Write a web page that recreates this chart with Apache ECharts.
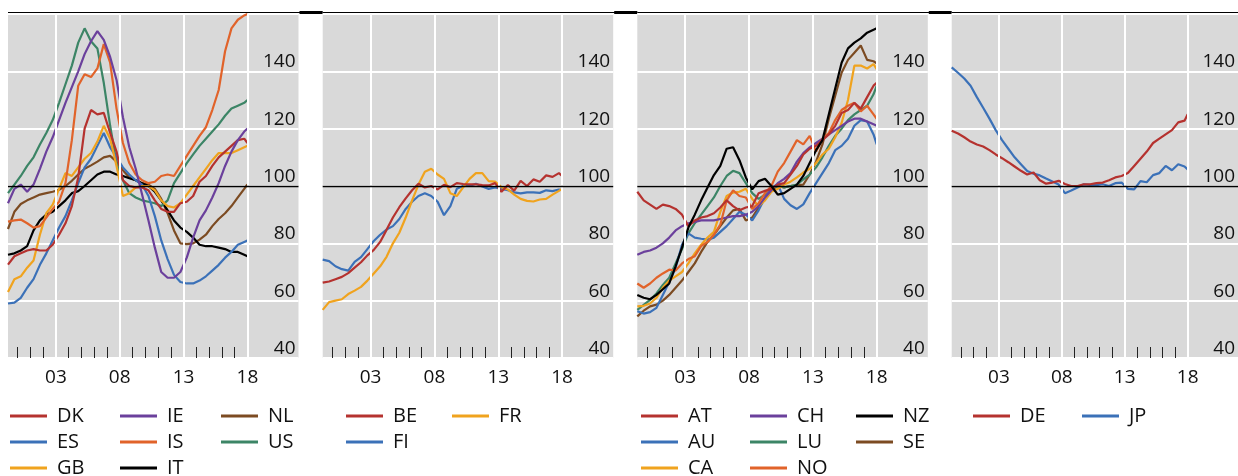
<!DOCTYPE html>
<html>
<head>
<meta charset="utf-8">
<script src="https://cdn.jsdelivr.net/npm/echarts@6/dist/echarts.min.js"></script>
<style>
  html, body { margin: 0; padding: 0; background: #fff; }
  #chart { width: 1238px; height: 476px; }
</style>
</head>
<body>
<div id="chart"></div>
<script>
// Half-yearly observation dates (decimal years)
const dates = [1999.25, 1999.75, 2000.25, 2000.75, 2001.25, 2001.75, 2002.25, 2002.75,
  2003.25, 2003.75, 2004.25, 2004.75, 2005.25, 2005.75, 2006.25, 2006.75,
  2007.25, 2007.75, 2008.25, 2008.75, 2009.25, 2009.75, 2010.25, 2010.75,
  2011.25, 2011.75, 2012.25, 2012.75, 2013.25, 2013.75, 2014.25, 2014.75,
  2015.25, 2015.75, 2016.25, 2016.75, 2017.25, 2017.75, 2018.0];

// Tick positions and labels
const majorYears = [2003, 2008, 2013, 2018];
const minorYears = [2000, 2001, 2002, 2004, 2005, 2006, 2007, 2009, 2010, 2011, 2012, 2014, 2015, 2016, 2017];
const yTicks = [40, 60, 80, 100, 120, 140, 160];

// Panel 1
const DK = [72.6, 75.5, 76.5, 77.5, 78, 77.5, 77.5, 79.5, 83, 87, 93, 103, 120, 126.5, 125, 125.5, 118.5, 112, 102, 100, 99.5, 99.5, 98.5, 95, 92, 91, 91, 94, 94.5, 96.5, 101.5, 103.5, 107, 110, 112, 114, 116, 116.5, 115];
const ES = [59, 59.3, 61, 64.5, 67.5, 72.5, 76.5, 81, 85.5, 89.5, 95, 101, 106.5, 109.5, 114, 118.5, 113.5, 110, 106.5, 104, 102, 100.5, 96.5, 89.5, 81, 74.5, 69, 66.5, 66, 66, 67, 68.5, 70.5, 72.5, 75, 77, 79.5, 80.5, 81];
const GB = [63, 67.5, 68.5, 71.5, 74, 83, 90.5, 93.5, 99, 104.5, 103.5, 106.5, 109.5, 111.5, 115.5, 121, 116.5, 107, 96.5, 97.5, 99.5, 100, 100, 98.5, 95, 93, 92.5, 94, 97, 100, 103, 106, 109, 111.5, 111.5, 111.5, 112.5, 113.5, 114];
const IE = [94, 99, 100.5, 98, 100.5, 106, 112, 117, 123, 129, 134.5, 140, 146, 150.5, 154, 151, 145, 137, 124, 113.5, 106, 97, 88, 78.5, 70, 68, 68, 70, 75, 82, 88, 91.5, 96, 101, 107, 112, 116, 119, 120];
const IS = [87.6, 88, 88.3, 87, 85.5, 86, 89, 92, 94.5, 101, 116, 135, 139, 138, 141, 149.5, 143, 127, 115, 108, 104, 102, 101, 101.5, 103.5, 104, 103.5, 107, 110.5, 114, 117.5, 120.5, 126.5, 133.5, 147, 155, 158, 159.5, 160];
const IT = [76, 76.5, 77.5, 79, 84.5, 88, 90, 91, 93, 95, 97.5, 98.2, 100, 102, 104, 105, 105, 104, 103.5, 102.7, 102, 101, 100, 98, 95, 91.5, 88, 85.5, 84, 82, 79.5, 79, 79, 78.5, 78, 77, 77, 76, 75.5];
const NL = [85, 91, 93.7, 95, 96, 97, 97.5, 98, 98.7, 100, 101.8, 104, 106, 107.2, 108.5, 110, 110.5, 108.5, 105.5, 103, 102, 101, 100.5, 99, 95.5, 90.5, 84.5, 80, 79.7, 80, 81.3, 83, 86, 88.5, 90.5, 93, 96, 99, 100.6];
const US = [97.5, 100.5, 103.5, 107, 110, 114.5, 118.5, 123, 129, 135.5, 142, 150, 155, 150.5, 148, 136, 121, 108, 102, 97.5, 96, 95, 94.5, 94, 93, 95, 101, 104.5, 108, 111, 114, 116.5, 119, 121.5, 124.5, 127, 128, 129, 130];

// Panel 2
const BE = [66.3, 66.7, 67.5, 68.3, 69.6, 71.5, 73.4, 75.8, 77.7, 80.5, 84.7, 89, 92.6, 95.7, 98.5, 100.8, 99.5, 100, 98.8, 100.4, 99.6, 101, 100.7, 100.6, 100.6, 100.3, 100.2, 101, 98, 100.3, 98.4, 101.8, 100, 102.3, 101.5, 103.7, 103.2, 104.5, 103.5];
const FI = [74.3, 73.8, 72, 71, 70.5, 73.5, 75.2, 78, 80.8, 83, 84.8, 86, 88.5, 92, 94.5, 96.5, 97.5, 96.5, 94.5, 89.8, 93, 99, 100, 100, 100.8, 99.8, 99, 99.5, 99, 98.5, 97.8, 97.4, 97.8, 97.8, 97.6, 98.5, 98.2, 98.8, 98.5];
const FR = [56.8, 59.5, 60, 60.5, 62.3, 63.5, 64.8, 67, 69.5, 72, 75.3, 80, 83.7, 89, 95, 100.5, 105, 106, 104, 102.5, 97.5, 96.5, 99.5, 102.5, 104.5, 104.5, 101.7, 101.5, 99.6, 98.8, 97, 95.5, 94.8, 94.6, 95.3, 95.5, 97, 98.3, 99];

// Panel 3
const AT = [98, 95, 93.5, 92, 93.5, 93, 92, 90, 86, 88, 89, 89.5, 90.5, 92.5, 95, 93, 91.5, 92.5, 93, 97.5, 98.3, 99, 100.5, 101, 104, 107, 111, 113, 114, 116, 118, 121, 125.5, 126.5, 129, 127, 131, 135, 136];
const AU = [56.3, 55.5, 56, 57.5, 62, 66.5, 71.5, 79.5, 83.5, 82, 81.6, 81.3, 82, 84, 86, 88.5, 91, 90, 88, 91.5, 96, 99.5, 100.5, 95.5, 93.3, 92, 93.6, 97.5, 101, 104.5, 108, 112.5, 114, 116.5, 121, 123, 122.5, 118, 114.5];
const CA = [58, 58.2, 59, 61, 64.5, 67, 68.5, 70, 73, 76.5, 79.5, 82, 84, 91, 96.5, 97.7, 98, 99, 95.5, 93, 95, 98, 99, 100.5, 101.5, 103, 104.7, 106, 108, 111, 113, 117, 122, 130, 142, 142, 141, 142.5, 140.8];
const CH = [76, 77, 77.5, 78.5, 80, 82, 84.5, 86, 87, 87.5, 88, 88, 88, 88.5, 89, 89.5, 89.5, 90, 91, 93, 96, 98.5, 101, 102.5, 104.5, 108.5, 111.5, 113.5, 115, 116.5, 118, 119.5, 121, 122.5, 123.5, 123.5, 122.5, 121.5, 121];
const LU = [56.8, 58.5, 60.3, 62.5, 65.5, 68, 73, 78, 83.5, 87, 90, 93, 96, 100, 103.5, 105.3, 104.5, 101, 97.5, 95.5, 97, 98.8, 100, 99.5, 100, 100.5, 102.3, 104, 106.5, 110, 114, 117.5, 120, 123, 125, 126.5, 128, 132, 135];
const NO = [66, 64.5, 66, 68, 69.5, 70.8, 70.5, 73, 74.5, 75.5, 79, 80.5, 83, 86.5, 95, 98.5, 96.5, 96, 92, 94, 97.5, 100, 105, 108, 112, 116, 114.5, 117.5, 112, 116.5, 118.5, 123, 126.5, 128, 129, 126, 128, 125, 123.4];
const NZ = [62, 61, 60.5, 62, 64, 66, 72, 78.5, 85.5, 90, 95, 99.5, 103.8, 107, 113, 113.5, 109, 103, 98.8, 101.7, 102.5, 100, 97, 97.5, 99, 100.5, 103.5, 108, 112.5, 116, 125, 134, 143, 148, 150, 151.5, 153.5, 154.5, 155];
const SE = [54.5, 56.5, 58, 58.6, 60, 62, 64.5, 67, 70, 73, 77, 80.5, 83, 86, 89, 91.5, 92, 88, 89, 92.5, 95.5, 98.5, 100, 99.5, 100, 100.3, 100.5, 104, 108.5, 114.5, 123.5, 131.5, 139.5, 144, 146.5, 149, 144, 143.5, 142.8];

// Panel 4
const DE = [119.3, 118.3, 117, 115.5, 114.5, 113.8, 112.5, 111, 109.7, 108.3, 106.8, 105.3, 104, 104.7, 102, 100.8, 101.2, 101.8, 100.7, 100, 100, 100.6, 100.6, 101, 101.2, 102, 103, 103.5, 104.5, 107, 109.5, 112, 115, 116.5, 118, 119.5, 122.2, 122.8, 125];
const JP = [141.4, 139.5, 137.5, 135, 131, 127.3, 123.5, 119.5, 116, 113, 110, 107.6, 105.2, 104.3, 103.7, 102.6, 101.6, 100.5, 97.5, 98.4, 99.5, 100.6, 100.4, 100.3, 100.6, 100, 101, 101.2, 99, 98.8, 101.7, 101.3, 103.8, 104.5, 107, 105.5, 107.6, 106.8, 105.8];

// Colours
const C = {
  red: '#b5322f', blue: '#3b71b8', gold: '#f0a31e', purple: '#6b409c',
  orange: '#e1632a', green: '#3c8566', brown: '#7c4b22', black: '#000000'
};

// Series per panel, in drawing order
const panels = [
  [['NL', NL, C.brown], ['IT', IT, C.black], ['US', US, C.green], ['ES', ES, C.blue],
   ['GB', GB, C.gold], ['DK', DK, C.red], ['IS', IS, C.orange], ['IE', IE, C.purple]],
  [['FI', FI, C.blue], ['FR', FR, C.gold], ['BE', BE, C.red]],
  [['SE', SE, C.brown], ['LU', LU, C.green], ['AU', AU, C.blue], ['CA', CA, C.gold],
   ['CH', CH, C.purple], ['NO', NO, C.orange], ['AT', AT, C.red], ['NZ', NZ, C.black]],
  [['JP', JP, C.blue], ['DE', DE, C.red]]
];

// Legend columns: [icon left, names top to bottom]
const legendCols = [
  [10, ['DK', 'ES', 'GB']], [120, ['IE', 'IS', 'IT']], [221, ['NL', 'US']],
  [346, ['BE', 'FI']], [452, ['FR']],
  [641, ['AT', 'AU', 'CA']], [750, ['CH', 'LU', 'NO']], [856, ['NZ', 'SE']],
  [973, ['DE']], [1082, ['JP']]
];
const legendRowCentres = [416, 442, 468];

const FONT = '"Open Sans", "Noto Sans", sans-serif';
const gridLefts = [8, 322.7, 637.3, 951.7];
const gridW = 290.5, gridTop = 14, gridH = 344;
const xMin = 1999.25, xMax = 2022;

const grid = [], xAxis = [], yAxis = [], series = [], legend = [], graphic = [];

gridLefts.forEach((left, i) => {
  grid.push({ left: left, top: gridTop, width: gridW, height: gridH, show: true,
    backgroundColor: '#d9d9d9', borderWidth: 0, containLabel: false });

  // major ticks with labels
  xAxis.push({
    gridIndex: i, type: 'value', min: xMin, max: xMax, position: 'bottom',
    axisLine: { show: false }, splitLine: { show: false },
    axisTick: { show: true, inside: true, length: 21, customValues: majorYears,
      lineStyle: { color: '#222', width: 1 } },
    axisLabel: { show: true, customValues: majorYears, margin: 10,
      formatter: v => String(Math.round(v)).slice(2),
      fontFamily: FONT, fontSize: 19, color: '#111' }
  });
  // yearly minor ticks
  xAxis.push({
    gridIndex: i, type: 'value', min: xMin, max: xMax, position: 'bottom',
    axisLine: { show: false }, splitLine: { show: false },
    axisTick: { show: true, inside: true, length: 11, customValues: minorYears,
      lineStyle: { color: '#222', width: 1 } },
    axisLabel: { show: false }
  });

  yAxis.push({
    gridIndex: i, type: 'value', min: yTicks[0], max: yTicks[yTicks.length - 1], interval: 20,
    position: 'right',
    axisLine: { show: false }, axisTick: { show: false },
    splitLine: { show: true, lineStyle: { color: '#ffffff', width: 2 } },
    axisLabel: { inside: true, margin: 3, showMaxLabel: false, verticalAlign: 'bottom',
      fontFamily: FONT, fontSize: 19, color: '#111' }
  });

  // vertical grid lines and the 100 reference line
  series.push({
    type: 'line', xAxisIndex: 2 * i, yAxisIndex: i, data: [], z: 1, silent: true,
    markLine: {
      silent: true, symbol: 'none', animation: false,
      label: { show: false },
      data: majorYears.map(y => ({ xAxis: y, lineStyle: { color: '#ffffff', width: 2, type: 'solid' } }))
        .concat([{ yAxis: 100, lineStyle: { color: '#000000', width: 1.3, type: 'solid' } }])
    }
  });

  panels[i].forEach(([name, vals, color]) => {
    series.push({
      name: name, type: 'line', xAxisIndex: 2 * i, yAxisIndex: i, z: 3,
      data: dates.map((d, k) => [d, vals[k]]),
      showSymbol: false, symbol: 'none',
      lineStyle: { color: color, width: 2.2 }, itemStyle: { color: color },
      clip: true
    });
  });

  // rule along the top of each panel
  graphic.push({ type: 'line', shape: { x1: left, y1: 12.5, x2: left + gridW + 2, y2: 12.5 },
    style: { stroke: '#000', lineWidth: 1 }, silent: true });
  if (i < gridLefts.length - 1) {
    graphic.push({ type: 'line', shape: { x1: left + gridW + 1, y1: 12.5, x2: gridLefts[i + 1], y2: 12.5 },
      style: { stroke: '#000', lineWidth: 3 }, silent: true });
  }
});

// one legend entry per component so the columns stay aligned
legendCols.forEach(([x, names]) => {
  names.forEach((name, r) => {
    legend.push({
      orient: 'horizontal', left: x, top: legendRowCentres[r] - 10, padding: 0,
      itemWidth: 37, itemHeight: 3, icon: 'rect', selectedMode: false,
      data: [name],
      textStyle: { fontFamily: FONT, fontSize: 20, color: '#111', lineHeight: 20, padding: [0, 0, 0, 5] }
    });
  });
});

const chart = echarts.init(document.getElementById('chart'), null, { renderer: 'canvas' });
chart.setOption({
  animation: false,
  backgroundColor: '#ffffff',
  grid: grid, xAxis: xAxis, yAxis: yAxis, series: series, legend: legend, graphic: graphic
});
</script>
</body>
</html>
